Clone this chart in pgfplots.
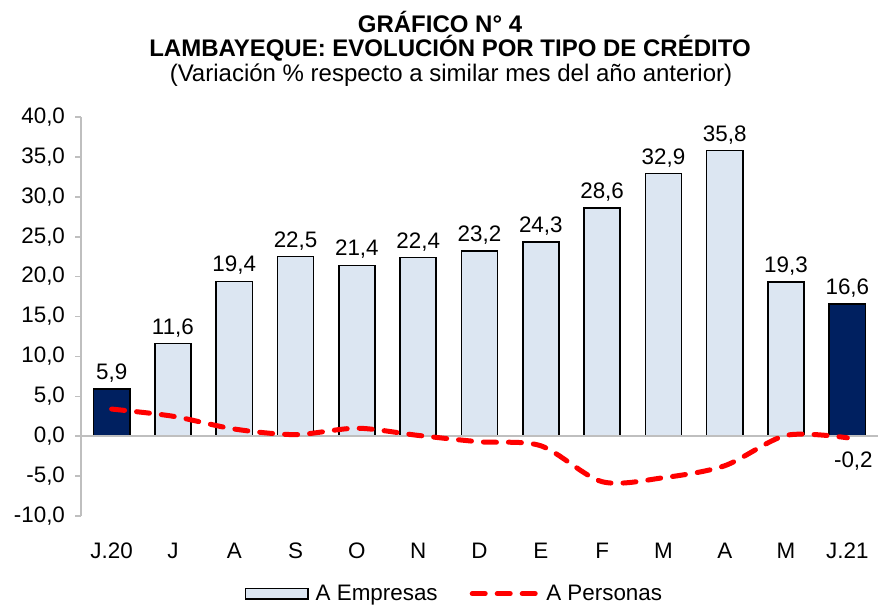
\documentclass[border=0pt]{standalone}
\usepackage{pgfplots}
\pgfplotsset{compat=1.18}
\usepackage{pgfplotstable}
\usepackage{fontspec}
\setmainfont{Liberation Sans}
\definecolor{lightbar}{HTML}{DCE6F2}
\definecolor{darkbar}{HTML}{002060}
\definecolor{axgray}{HTML}{BFBFBF}
\definecolor{linered}{HTML}{FF0000}

\pgfplotsset{
  barlegend/.style={legend image code/.code={\draw[##1] (0pt,-4.1pt) rectangle (47pt,4.1pt);}},
  linelegend/.style={legend image code/.code={\draw[##1] (1.9pt,0pt) -- (50.6pt,0pt);}},
}

\pgfplotstableread{
x emp per
0 5.9 3.4
1 11.6 2.5
2 19.4 0.9
3 22.5 0.2
4 21.4 1.0
5 22.4 0.1
6 23.2 -0.7
7 24.3 -1.2
8 28.6 -5.7
9 32.9 -5.2
10 35.8 -3.7
11 19.3 0.1
12 16.6 -0.2
}\datatable

\pgfplotstableread{
x emp
0 5.9
12 16.6
}\darktable

\begin{document}
\begin{tikzpicture}[x=0.75pt,y=0.75pt]
\useasboundingbox (0,0) rectangle (878,604);
\node[font=\fontsize{18}{21}\selectfont\bfseries] at (440,582) {GRÁFICO N° 4};
\node[font=\fontsize{18}{21}\selectfont\bfseries] at (450,556) {LAMBAYEQUE: EVOLUCIÓN POR TIPO DE CRÉDITO};
\node[font=\fontsize{18}{21}\selectfont] at (451,529) {(Variación \% respecto a similar mes del año anterior)};
\begin{axis}[
  at={(60.75pt,66pt)}, anchor=south west,
  width=597.75pt, height=299.25pt, scale only axis,
  xmin=-0.5, xmax=12.5, ymin=-10, ymax=40,
  clip=false,
  axis y line*=left, axis x line*=bottom,
  x axis line style={draw=none},
  y axis line style={axgray, line width=1.2pt},
  ytick={-10,-5,...,40},
  xtick={0,...,12},
  xticklabels={J.20,J,A,S,O,N,D,E,F,M,A,M,J.21},
  major x tick style={draw=none},
  major y tick style={axgray, line width=1.2pt},
  tick align=outside,
  major tick length=4.5pt,
  tick label style={font=\fontsize{16.8}{19}\selectfont},
  xticklabel style={yshift=-12pt},
  yticklabel style={xshift=-4pt},
  /pgf/number format/assume math mode=true,
  yticklabel={\pgfmathprintnumber[fixed,fixed zerofill,precision=1,use comma]{\tick}},
  legend style={at={(0.469,-0.195)}, anchor=center, draw=none, fill=none,
    font=\fontsize{16.8}{19}\selectfont, legend columns=2,
    /tikz/every even column/.append style={column sep=22pt},
    /tikz/every odd column/.append style={column sep=3pt}},
]
\addplot[ybar, bar width=0.59, bar shift=0pt, fill=lightbar, draw=black, line width=1.2pt,
  nodes near coords, every node near coord/.append style={font=\fontsize{16.8}{19}\selectfont, yshift=1pt, black},
  nodes near coords={\pgfmathprintnumber[fixed,fixed zerofill,precision=1,use comma,assume math mode=true]{\pgfplotspointmeta}},
  barlegend]
  table[x=x,y=emp]{\datatable};
\addlegendentry{A Empresas}
\addplot[ybar, bar width=0.59, bar shift=0pt, fill=darkbar, draw=black, line width=1.2pt, forget plot]
  table[x=x,y=emp]{\darktable};
\addplot[axgray, line width=1.5pt, forget plot] coordinates {(-0.5,0) (12.5,0)};
\addplot[linered, line width=3.75pt, line cap=round, dash pattern=on 9.75pt off 9pt, smooth, tension=0.5, no markers,
  linelegend]
  table[x=x,y=per]{\datatable};
\addlegendentry{A Personas}
\node[anchor=north, font=\fontsize{16.8}{19}\selectfont, xshift=4.5pt, yshift=-7pt] at (axis cs:12,-0.2) {-0,2};
\end{axis}
\end{tikzpicture}
\end{document}
